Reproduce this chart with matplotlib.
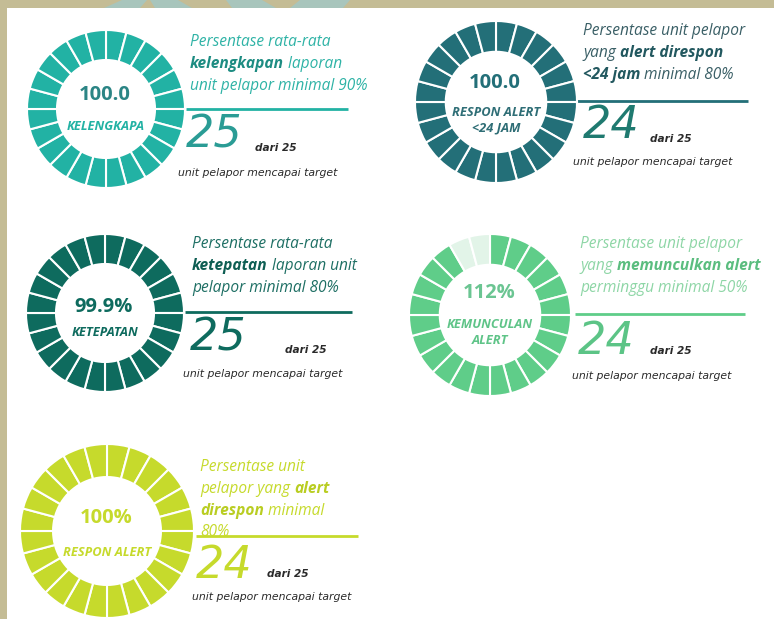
import matplotlib
matplotlib.use("Agg")
import matplotlib.pyplot as plt
from matplotlib.patches import Polygon, Rectangle

# ---------------- data ----------------
indicator_values = ["100.0", "100.0", "99.9%", "112%", "100%"]
indicator_labels = ["KELENGKAPA", "RESPON ALERT\n<24 JAM", "KETEPATAN",
                    "KEMUNCULAN\nALERT", "RESPON ALERT"]
units_achieved = ["25", "24", "25", "24", "24"]
units_total = ["25", "25", "25", "25", "25"]
filled_segments = [24, 24, 24, 22, 24]
n_segments = 24
footer_text = "unit pelapor mencapai target"

desc_1 = [[("Persentase rata-rata", False)],
          [("kelengkapan", True), (" laporan", False)],
          [("unit pelapor minimal 90%", False)]]
desc_2 = [[("Persentase unit pelapor", False)],
          [("yang ", False), ("alert direspon", True)],
          [("<24 jam", True), (" minimal 80%", False)]]
desc_3 = [[("Persentase rata-rata", False)],
          [("ketepatan", True), (" laporan unit", False)],
          [("pelapor minimal 80%", False)]]
desc_4 = [[("Persentase unit pelapor", False)],
          [("yang ", False), ("memunculkan alert", True)],
          [("perminggu minimal 50%", False)]]
desc_5 = [[("Persentase unit", False)],
          [("pelapor yang ", False), ("alert", True)],
          [("direspon", True), (" minimal", False)],
          [("80%", False)]]
descriptions = [desc_1, desc_2, desc_3, desc_4, desc_5]

# ---------------- layout / style ----------------
W, H = 774, 619
FONT = ["Open Sans", "DejaVu Sans"]
SMALL = ["DejaVu Sans"]

panels = [
    dict(cx=106, cy=109, r=79, col="#22b2a4", light="#d8f0ec", vcol="#2b8585", lcol="#22b2a4",
         dcol="#2fb3a6", bcol="#1d8c82", big="#2a9c95",
         vy=-14, ly=[18], dx=190, dy=[42, 64, 86], line=(186, 348, 109),
         bx=186, by=135, sx=255, sy=148, fx=178, fy=173),
    dict(cx=496, cy=102, r=81, col="#236f78", light="#d0e2e4", vcol="#236f78", lcol="#2f6e76",
         dcol="#3a5f66", bcol="#22585f", big="#1f7a70",
         vy=-19, ly=[10, 26], dx=583, dy=[31, 53, 75], line=(577, 748, 101),
         bx=583, by=125, sx=650, sy=139, fx=573, fy=162),
    dict(cx=105, cy=313, r=79, col="#0e6b5e", light="#cfe3df", vcol="#0e6b5e", lcol="#0e6b5e",
         dcol="#1e6f64", bcol="#0e5e53", big="#0e6b5e",
         vy=-6, ly=[19], dx=192, dy=[244, 266, 288], line=(185, 352, 312),
         bx=190, by=338, sx=285, sy=350, fx=183, fy=374),
    dict(cx=490, cy=315, r=81, col="#5fcd89", light="#e2f4e8", vcol="#6bc592", lcol="#5fc488",
         dcol="#8ed6a6", bcol="#5bbd7f", big="#5cc486",
         vy=-22, ly=[10, 25], dx=580, dy=[244, 266, 288], line=(575, 745, 314),
         bx=578, by=341, sx=650, sy=351, fx=572, fy=376),
    dict(cx=107, cy=531, r=87, col="#c6da2c", light="#f0f5c8", vcol="#c6da2c", lcol="#c6da2c",
         dcol="#c6da2c", bcol="#b9cd22", big="#c6da2c",
         vy=-13, ly=[22], dx=200, dy=[467, 489, 511, 532], line=(196, 358, 536),
         bx=196, by=566, sx=267, sy=574, fx=192, fy=597),
]

fig = plt.figure(figsize=(W / 100, H / 100), dpi=100)
fig.patch.set_facecolor("white")
bg = fig.add_axes([0, 0, 1, 1])
bg.set_xlim(0, W)
bg.set_ylim(H, 0)
bg.axis("off")
renderer = fig.canvas.get_renderer()

# decorative border
beige = "#c4bc95"
stripe = "#a8c5bc"
bg.add_patch(Rectangle((0, 0), W, 8, color=beige, zorder=0, lw=0))
bg.add_patch(Rectangle((0, 0), 7, H, color=beige, zorder=0, lw=0))
for poly in [[(104, 8), (122, 0), (147, 0), (140, 8)],
             [(155, 8), (150, 0), (178, 0), (192, 8)],
             [(232, 8), (226, 0), (262, 0), (276, 8)],
             [(290, 8), (300, 0), (350, 0), (343, 8)]]:
    bg.add_patch(Polygon(poly, closed=True, color=stripe, zorder=1, lw=0))


def draw_runs(x, y, runs, size, color, bold_color):
    for txt, bold in runs:
        t = bg.text(x, y, txt, fontsize=size, style="italic",
                    fontweight="bold" if bold else "normal",
                    color=bold_color if bold else color, family=FONT,
                    ha="left", va="center")
        bb = t.get_window_extent(renderer=renderer)
        x += bb.width


for i, p in enumerate(panels):
    cx, cy, r = p["cx"], p["cy"], p["r"]
    pad = 1.04
    ax = fig.add_axes([(cx - r * pad) / W, (H - cy - r * pad) / H,
                       2 * r * pad / W, 2 * r * pad / H])
    cols = [p["col"]] * filled_segments[i] + [p["light"]] * (n_segments - filled_segments[i])
    ax.pie([1] * n_segments, colors=cols, startangle=90, counterclock=False, radius=1,
           wedgeprops=dict(width=0.38, edgecolor="white", linewidth=1.5))
    ax.set_xlim(-pad, pad)
    ax.set_ylim(-pad, pad)
    ax.axis("off")

    # centre texts
    bg.text(cx - 1, cy + p["vy"], indicator_values[i], fontsize=14.5, fontweight="bold",
            color=p["vcol"], ha="center", va="center", family=FONT)
    for j, lab in enumerate(indicator_labels[i].split("\n")):
        bg.text(cx, cy + p["ly"][j], lab, fontsize=9.3, fontweight="bold", style="italic",
                color=p["lcol"], ha="center", va="center", family=FONT)

    # description
    for j, runs in enumerate(descriptions[i]):
        draw_runs(p["dx"], p["dy"][j], runs, 11.2, p["dcol"], p["bcol"])

    x0, x1, ly = p["line"]
    bg.plot([x0, x1], [ly, ly], color=p["col"], lw=2, solid_capstyle="butt")

    bg.text(p["bx"], p["by"], units_achieved[i], fontsize=32, style="italic",
            color=p["big"], ha="left", va="center", family=SMALL)
    bg.text(p["sx"], p["sy"], "dari " + units_total[i], fontsize=7.6, style="italic",
            fontweight="bold", color="#2a2a2a", ha="left", va="center", family=SMALL)
    bg.text(p["fx"], p["fy"], footer_text, fontsize=7.8, style="italic",
            color="#2a2a2a", ha="left", va="center", family=SMALL)

fig.savefig("out.png", dpi=100, facecolor="white")
